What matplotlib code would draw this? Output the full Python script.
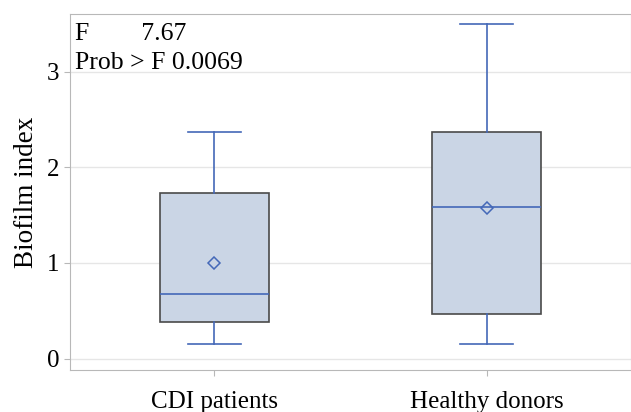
import matplotlib
matplotlib.use("Agg")
import matplotlib.pyplot as plt

# box-plot summary per group
groups = ["CDI patients", "Healthy donors"]
whislo = [0.15, 0.15]
q1 = [0.38, 0.47]
med = [0.67, 1.59]
q3 = [1.73, 2.37]
whishi = [2.37, 3.50]
means = [1.00, 1.57]
f_stat = "7.67"
p_val = "0.0069"

plt.rcParams["font.family"] = ["Liberation Serif", "DejaVu Serif"]
BLUE = "#4468b8"

fig = plt.figure(figsize=(6.31, 4.12), dpi=100)
ax = fig.add_axes([0.111, 0.102, 0.889, 0.864])

stats = [dict(label=g, whislo=a, q1=b, med=c, q3=d, whishi=e, mean=m, fliers=[])
         for g, a, b, c, d, e, m in zip(groups, whislo, q1, med, q3, whishi, means)]
ax.bxp(stats, positions=[0, 1], widths=0.40, capwidths=0.195, showmeans=True,
       patch_artist=True, zorder=3,
       boxprops=dict(facecolor="#cad5e5", edgecolor="#4a4a4a", lw=1.2),
       whiskerprops=dict(color=BLUE, lw=1.2), capprops=dict(color=BLUE, lw=1.2),
       medianprops=dict(color=BLUE, lw=1.2),
       meanprops=dict(marker="D", markersize=6, markerfacecolor="none",
                      markeredgecolor=BLUE, markeredgewidth=1.1))

ax.set_xlim(-0.53, 1.53); ax.set_ylim(-0.12, 3.605)
ax.set_yticks([0, 1, 2, 3])
ax.grid(axis="y", color="#e6e6e6", lw=1, zorder=0)
for sp in ax.spines.values(): sp.set_color("#b8b8b8")
ax.tick_params(colors="#b8b8b8", labelcolor="black", labelsize=18, length=4)
ax.tick_params(axis="x", labelsize=18, pad=11)
ax.set_ylabel("Biofilm index", fontsize=19.5, labelpad=6)
ax.text(0.008, 0.975, f"F        {f_stat}\nProb > F {p_val}", transform=ax.transAxes,
        va="top", ha="left", fontsize=18.5, linespacing=1.4)

fig.savefig("out.png", dpi=100)
